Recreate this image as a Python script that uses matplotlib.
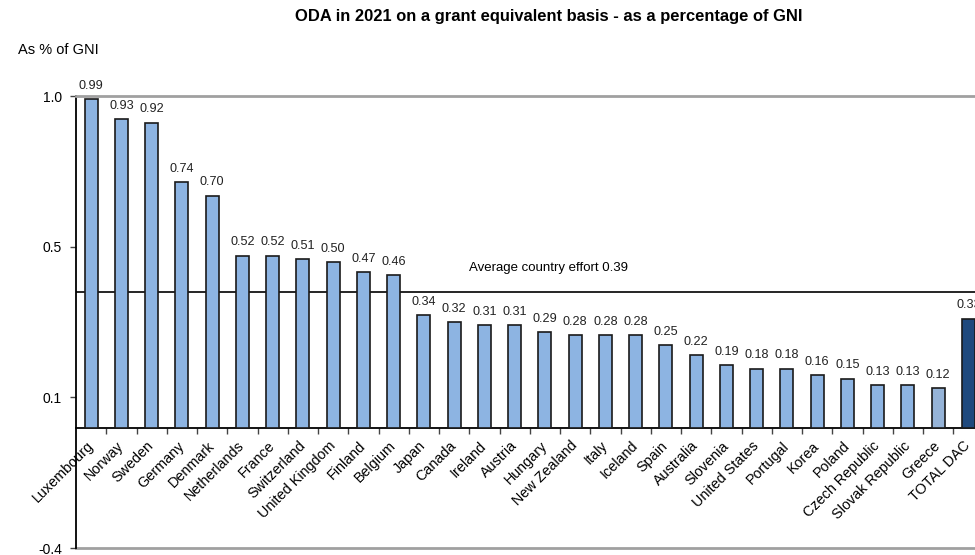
import matplotlib
matplotlib.use('Agg')
import matplotlib.pyplot as plt
from matplotlib.ticker import FixedLocator, FormatStrFormatter

plt.rcParams['font.family'] = ['Liberation Sans', 'DejaVu Sans']

# Data
countries = ['Luxembourg', 'Norway', 'Sweden', 'Germany', 'Denmark', 'Netherlands',
             'France', 'Switzerland', 'United Kingdom', 'Finland', 'Belgium', 'Japan',
             'Canada', 'Ireland', 'Austria', 'Hungary', 'New Zealand', 'Italy',
             'Iceland', 'Spain', 'Australia', 'Slovenia', 'United States', 'Portugal',
             'Korea', 'Poland', 'Czech Republic', 'Slovak Republic', 'Greece', 'TOTAL DAC']
oda_pct = [0.99, 0.93, 0.92, 0.74, 0.70, 0.52,
           0.52, 0.51, 0.50, 0.47, 0.46, 0.34,
           0.32, 0.31, 0.31, 0.29, 0.28, 0.28,
           0.28, 0.25, 0.22, 0.19, 0.18, 0.18,
           0.16, 0.15, 0.13, 0.13, 0.12, 0.33]
avg_effort = 0.39      # value in the label
avg_line_level = 0.41  # where the line sits in the picture

colors = ['#8DB4E2'] * len(countries)
colors[countries.index('Greece')] = '#95B3D7'
colors[countries.index('TOTAL DAC')] = '#1F497D'

fig = plt.figure(figsize=(9.75, 5.55), dpi=100)
ax = fig.add_axes([76 / 975, 7 / 555, 907.5 / 975, 452 / 555])

x = list(range(len(countries)))
ax.bar(x, oda_pct, width=0.43, color=colors, edgecolor='#1a1a1a', linewidth=1.2, zorder=3)

for xi, v in zip(x, oda_pct):
    ax.text(xi, v + 0.022, f'{v:.2f}', ha='center', va='bottom', fontsize=9.1, color='#222222')

ax.set_xlim(-0.5, len(countries) - 0.5)
ymin, ymax = -0.36, 1.0
ax.set_ylim(ymin, ymax)
step = (ymax - ymin) / 3
ax.yaxis.set_major_locator(FixedLocator([ymin + i * step for i in range(4)]))
ax.yaxis.set_major_formatter(FormatStrFormatter('%.1f'))
ax.tick_params(axis='y', length=4, width=1, labelsize=10, pad=6, color='#444444')

# x axis sits on the zero line
ax.spines['bottom'].set_position(('data', 0))
ax.spines['bottom'].set_linewidth(1.3)
ax.spines['left'].set_linewidth(1.3)
ax.spines['right'].set_visible(False)
ax.spines['top'].set_color('#a0a0a0')
ax.spines['top'].set_linewidth(2)

ax.set_xticks(x)
ax.set_xticklabels(countries, rotation=45, ha='right', va='center', rotation_mode='anchor', fontsize=10.4)
ax.tick_params(axis='x', which='major', length=0, pad=11)
ax.xaxis.set_minor_locator(FixedLocator([i + 0.5 for i in x]))
ax.tick_params(axis='x', which='minor', length=4, width=1, color='#444444')

# grey line along the bottom of the plot area
ax.axhline(ymin, color='#a0a0a0', linewidth=2, clip_on=False, zorder=1)

# average country effort
ax.axhline(avg_line_level, color='black', linewidth=1.2, zorder=2)
ax.text(12.5, 0.483, f'Average country effort {avg_effort:.2f}', ha='left', va='center', fontsize=9.5)

fig.text(18 / 975, 1 - 50 / 555, 'As % of GNI', ha='left', va='center', fontsize=10.5)
fig.text(549 / 975, 1 - 16 / 555, 'ODA in 2021 on a grant equivalent basis - as a percentage of GNI',
         ha='center', va='center', fontsize=11.9, fontweight='bold')

fig.savefig('out.png', dpi=100)
